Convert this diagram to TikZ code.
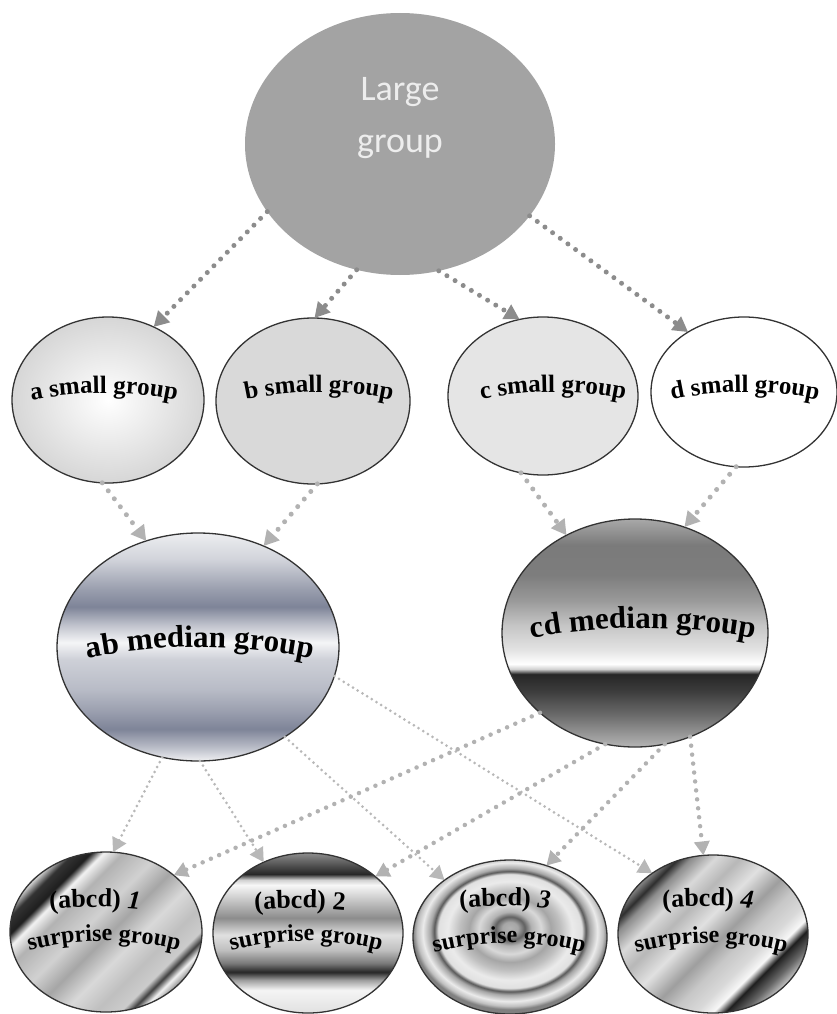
\documentclass[tikz,border=0pt]{standalone}
\usepackage{fontspec}
\setmainfont{Liberation Serif}
\newfontfamily\tnr{Liberation Serif}
\newfontfamily\carl{Carlito}
\usetikzlibrary{shapes.geometric,arrows.meta,decorations.text}
\definecolor{abd}{HTML}{7E8498}
\pgfdeclareverticalshading{abshade}{100bp}{color(0bp)=(abd!12); color(25bp)=(abd!12); color(28.1bp)=(abd!55); color(32bp)=(abd); color(35.9bp)=(abd!78); color(40.7bp)=(abd!55); color(47.3bp)=(abd!38); color(51bp)=(abd!8); color(54.9bp)=(abd!50); color(58.8bp)=(abd); color(62.6bp)=(abd!79); color(69.1bp)=(abd!36); color(75bp)=(abd!14); color(100bp)=(abd!14)}
\pgfdeclareverticalshading{cdshade}{100bp}{color(0bp)=(black!29); color(25bp)=(black!29); color(32bp)=(black!58); color(37.5bp)=(black!77); color(41bp)=(black!85); color(42.1bp)=(black!18); color(43.2bp)=(white); color(46.3bp)=(black!11); color(51.8bp)=(black!23); color(57.2bp)=(black!40); color(62.7bp)=(black!51); color(69.3bp)=(black!52); color(75bp)=(black!34); color(100bp)=(black!34)}
\pgfdeclareverticalshading{twoshade}{100bp}{color(0bp)=(black!12); color(25bp)=(black!12); color(32.2bp)=(black!4); color(35.3bp)=(black!38); color(37.8bp)=(black!85); color(40.6bp)=(black!52); color(44.7bp)=(black!25); color(49.4bp)=(black!12); color(54.7bp)=(black!45); color(60.3bp)=(black!22); color(65bp)=(black!3); color(66.6bp)=(black!18); color(68.4bp)=(black!85); color(70.9bp)=(black!70); color(75bp)=(black!45); color(100bp)=(black!45)}
\pgfdeclareradialshading{ringshade}{\pgfpoint{0bp}{3bp}}{color(0bp)=(black!30); color(2bp)=(black!35); color(3.8bp)=(black!62); color(5.5bp)=(black!30); color(8bp)=(black!15); color(10.5bp)=(black!35); color(13bp)=(black!25); color(16bp)=(black!8); color(18.5bp)=(black!12); color(19.5bp)=(black!65); color(20.5bp)=(black!35); color(22.5bp)=(black!8); color(24bp)=(black!25); color(25bp)=(black!50); color(50bp)=(black!50)}
\pgfdeclarehorizontalshading{oneshade}{100bp}{color(0bp)=(black!20); color(25bp)=(black!20); color(27.5bp)=(black!80); color(31bp)=(black!88); color(33.5bp)=(black!5); color(37.5bp)=(black!30); color(45bp)=(black!18); color(51bp)=(black!35); color(57.5bp)=(black!15); color(64bp)=(black!25); color(69bp)=(black!20); color(71bp)=(black!75); color(73bp)=(black!5); color(75bp)=(black!40); color(100bp)=(black!40)}
\pgfdeclarehorizontalshading{fourshade}{100bp}{color(0bp)=(black!50); color(25bp)=(black!50); color(27.5bp)=(black!82); color(30bp)=(black!45); color(35bp)=(black!15); color(40bp)=(black!28); color(46bp)=(black!12); color(52.5bp)=(black!38); color(57.5bp)=(black!22); color(62.5bp)=(black!15); color(66bp)=(black!3); color(68.5bp)=(black!88); color(72bp)=(black!60); color(75bp)=(black!25); color(100bp)=(black!25)}
\newcommand\arctext[6]{\path[decorate, decoration={text along path, text align=center, text={|\tnr\bfseries\fontsize{#5}{#5}\selectfont|#6}}] ([shift={(90+#4:#3)}]#1,-#2-#3) arc[start angle=90+#4, end angle=90-#4, radius=#3];}
\tikzset{
  grp/.style={ellipse, inner sep=0pt, outer sep=0pt},
  bord/.style={draw=black!80, line width=1.3pt},
  dotL/.style={draw=black!45, line width=5pt, line cap=round, dash pattern=on 0pt off 9.5pt, -{Triangle[length=15pt,width=16pt,fill=black!45]}},
  dotS/.style={draw=black!30, line width=5pt, line cap=round, dash pattern=on 0pt off 10pt, -{Triangle[length=15pt,width=16pt,fill=black!30]}},
  dotC/.style={draw=black!30, line width=4.5pt, line cap=round, dash pattern=on 0pt off 9pt, -{Triangle[length=14pt,width=15pt,fill=black!30]}},
  dotA/.style={draw=black!28, line width=3pt, line cap=round, dash pattern=on 0pt off 5.5pt, -{Triangle[length=14pt,width=15pt,fill=black!28]}}
}
\begin{document}
\begin{tikzpicture}[x=1pt,y=1pt]
\useasboundingbox (0,0) rectangle (837,-1014);
% top
\node[grp, fill=black!36, minimum width=310, minimum height=262] (L) at (400,-144) {};
\node[font=\carl\fontsize{36}{52}\selectfont, text=black!7, align=center] (Lt) at (400,-118) {Large\\group};
% small groups
\node[grp, bord, inner color=white, outer color=black!16, minimum width=192, minimum height=166,
  path picture={
    \draw[black!25, opacity=0.5, line width=6pt, line cap=round] (20,-360) .. controls (60,-380) and (100,-340) .. (150,-355);
    \draw[black!25, opacity=0.5, line width=8pt, line cap=round] (130,-325) .. controls (150,-340) and (170,-330) .. (200,-345);
    \draw[black!22, opacity=0.5, line width=5pt, line cap=round] (30,-430) .. controls (70,-410) and (110,-440) .. (180,-420);
    \draw[black!25, opacity=0.5, line width=7pt, line cap=round] (60,-470) .. controls (90,-455) and (120,-470) .. (160,-450);
    \draw[black!20, opacity=0.5, line width=10pt, line cap=round] (15,-400) .. controls (30,-420) and (40,-440) .. (50,-470);
    \draw[black!22, opacity=0.4, line width=4pt, line cap=round] (90,-320) .. controls (110,-350) and (100,-380) .. (130,-400);
  }] (a) at (108,-400) {};
\node[grp, bord, fill=black!15, minimum width=194, minimum height=166] (b) at (313,-401) {};
\node[grp, bord, fill=black!10, minimum width=190, minimum height=158,
  path picture={
    \pgfmathsetseed{7}
    \foreach \i in {1,...,700}{\fill[black!24] ({543+95*rand},{-396+79*rand}) circle (1.0);}
    \foreach \i in {1,...,300}{\fill[black!3] ({543+95*rand},{-396+79*rand}) circle (0.9);}
  }] (c) at (543,-396) {};
\node[grp, bord, fill=white, minimum width=186, minimum height=150] (d) at (744,-392) {};
% median groups
\node[grp, bord, shade, shading=abshade, minimum width=282, minimum height=228] (ab) at (198,-647) {};
\node[grp, bord, shade, shading=cdshade, minimum width=266, minimum height=228] (cd) at (635,-633) {};
% surprise groups
\node[grp, bord, shade, shading=oneshade, shading angle=-45, minimum width=192, minimum height=160] (s1) at (106,-932) {};
\node[grp, bord, shade, shading=twoshade, minimum width=190, minimum height=160] (s2) at (308,-933) {};
\node[grp, bord, shade, shading=ringshade, minimum width=194, minimum height=154] (s3) at (510,-937) {};
\node[grp, bord, shade, shading=fourshade, shading angle=-45, minimum width=190, minimum height=158] (s4) at (713,-934) {};
% texts
\arctext{104}{393}{350}{16}{25}{a small group}
\arctext{319}{392}{350}{16}{25}{b small group}
\arctext{553}{392}{350}{16}{25}{c small group}
\arctext{745}{392}{350}{16}{25}{d small group}
\arctext{200}{647}{550}{15}{31}{ab median group}
\arctext{643}{628}{600}{14}{31}{cd median group}
\arctext{95}{907}{500}{8}{26}{(abcd) |\tnr\bfseries\itshape\fontsize{26}{26}\selectfont|1}
\arctext{300}{908}{500}{8}{26}{(abcd) 2}
\arctext{505}{906}{500}{8}{26}{(abcd) |\tnr\bfseries\itshape\fontsize{26}{26}\selectfont|3}
\arctext{708}{906}{500}{8}{26}{(abcd) |\tnr\bfseries\itshape\fontsize{26}{26}\selectfont|4}
\arctext{104}{941}{300}{22}{24}{surprise group}
\arctext{306}{941}{300}{22}{24}{surprise group}
\arctext{509}{943}{300}{22}{24}{surprise group}
\arctext{711}{943}{300}{22}{24}{surprise group}
% connectors
\draw[dotL] (L.207) -- (a.58);
\draw[dotL] (L.251) -- (b.89);
\draw[dotL] (L.287) -- (c.107);
\draw[dotL] (L.331) -- (d.133);
\draw[dotS] (a.266) -- (ab.116);
\draw[dotS] (b.273) -- (ab.57);
\draw[dotS] (c.254) -- (cd.125);
\draw[dotS] (d.264) -- (cd.65);
\draw[dotA] (ab.252) -- (s1.85);
\draw[dotA] (ab.271) -- (s2.122);
\draw[dotA] (ab.314) -- (s3.139);
\draw[dotA] (ab.348) -- (s4.135);
\draw[dotC] (cd.220) -- (s1.40);
\draw[dotC] (cd.255) -- (s2.40);
\draw[dotC] (cd.285) -- (s3.63);
\draw[dotC] (cd.298) -- (s4.97);
\end{tikzpicture}
\end{document}
